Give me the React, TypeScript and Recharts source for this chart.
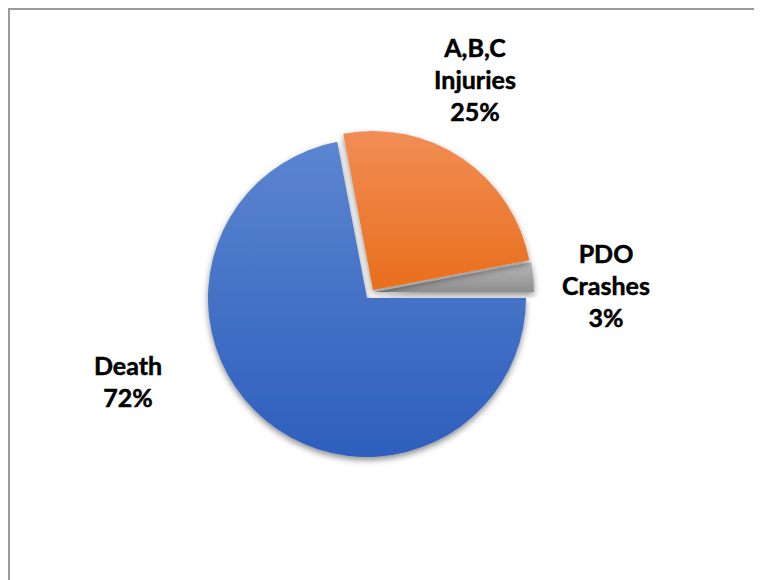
import React from "react";
import { PieChart, Pie, Cell } from "recharts";

// slice order follows the source sheet: Death first, clockwise from 3 o'clock
const categories = ["Death", "A,B,C Injuries", "PDO Crashes"];
const shares = [72, 25, 3];
const labelLines = [["Death"], ["A,B,C", "Injuries"], ["PDO", "Crashes"]];

const data = categories.map((name, i) => ({ name, value: shares[i] }));

const fills = ["url(#gradBlue)", "url(#gradOrange)", "url(#gradGray)"];

// per-slice centre (exploded slices are shifted a bit outwards)
const sliceCentres = [
  { cx: 357, cy: 288 },
  { cx: 363, cy: 280 },
  { cx: 365, cy: 282 },
];
// draw order: blue, gray, orange (orange sits on top of gray)
const drawOrder = [0, 2, 1];

// label anchors (centre x, first baseline y)
const labelAnchors = [
  { x: 118, y: 365 },
  { x: 465, y: 47 },
  { x: 596, y: 253 },
];
const LINE_GAP = 32;
const R = 159;

const renderLabel = (props: any) => {
  const { index, percent } = props;
  const a = labelAnchors[index];
  const lines = [...labelLines[index], `${Math.round(percent * 100)}%`];
  return (
    <text
      key={`lbl-${index}`}
      x={a.x}
      y={a.y}
      textAnchor="middle"
      fill="#000"
      stroke="#000"
      strokeWidth={0.5}
      fontFamily="Lato, 'Open Sans', sans-serif"
      fontWeight={700}
      fontSize={25}
    >
      {lines.map((l, i) => (
        <tspan key={i} x={a.x} dy={i === 0 ? 0 : LINE_GAP}>
          {l}
        </tspan>
      ))}
    </text>
  );
};

export default function App() {
  return (
    <div
      style={{
        width: 754,
        height: 572,
        boxSizing: "border-box",
        borderTop: "2px solid #9a9a9a",
        borderLeft: "2px solid #9a9a9a",
        background: "#fff",
      }}
    >
      <PieChart width={752} height={570} margin={{ top: 0, right: 0, bottom: 0, left: 0 }}>
        <defs>
          <linearGradient id="gradBlue" x1="0" y1="0" x2="0" y2="1">
            <stop offset="0%" stopColor="#5c85d0" />
            <stop offset="100%" stopColor="#2d5fbd" />
          </linearGradient>
          <linearGradient id="gradOrange" x1="0" y1="0" x2="0" y2="1">
            <stop offset="0%" stopColor="#f18d55" />
            <stop offset="100%" stopColor="#e96e1c" />
          </linearGradient>
          <linearGradient id="gradGray" x1="0" y1="0" x2="0" y2="1">
            <stop offset="0%" stopColor="#b8b8b8" />
            <stop offset="100%" stopColor="#8e8e8e" />
          </linearGradient>
          <filter id="sliceShadow" x="-20%" y="-20%" width="140%" height="140%">
            <feDropShadow dx="0" dy="3" stdDeviation="3" floodColor="#000" floodOpacity="0.45" />
          </filter>
        </defs>
        {drawOrder.map((si) => (
          <Pie
            key={si}
            data={data}
            dataKey="value"
            nameKey="name"
            cx={sliceCentres[si].cx}
            cy={sliceCentres[si].cy}
            outerRadius={R}
            startAngle={0}
            endAngle={-360}
            stroke="none"
            isAnimationActive={false}
            label={si === 0 ? renderLabel : false}
            labelLine={false}
          >
            {data.map((d, i) => (
              <Cell
                key={d.name}
                fill={i === si ? fills[i] : "none"}
                stroke="none"
                filter={i === si ? "url(#sliceShadow)" : undefined}
              />
            ))}
          </Pie>
        ))}
      </PieChart>
    </div>
  );
}
